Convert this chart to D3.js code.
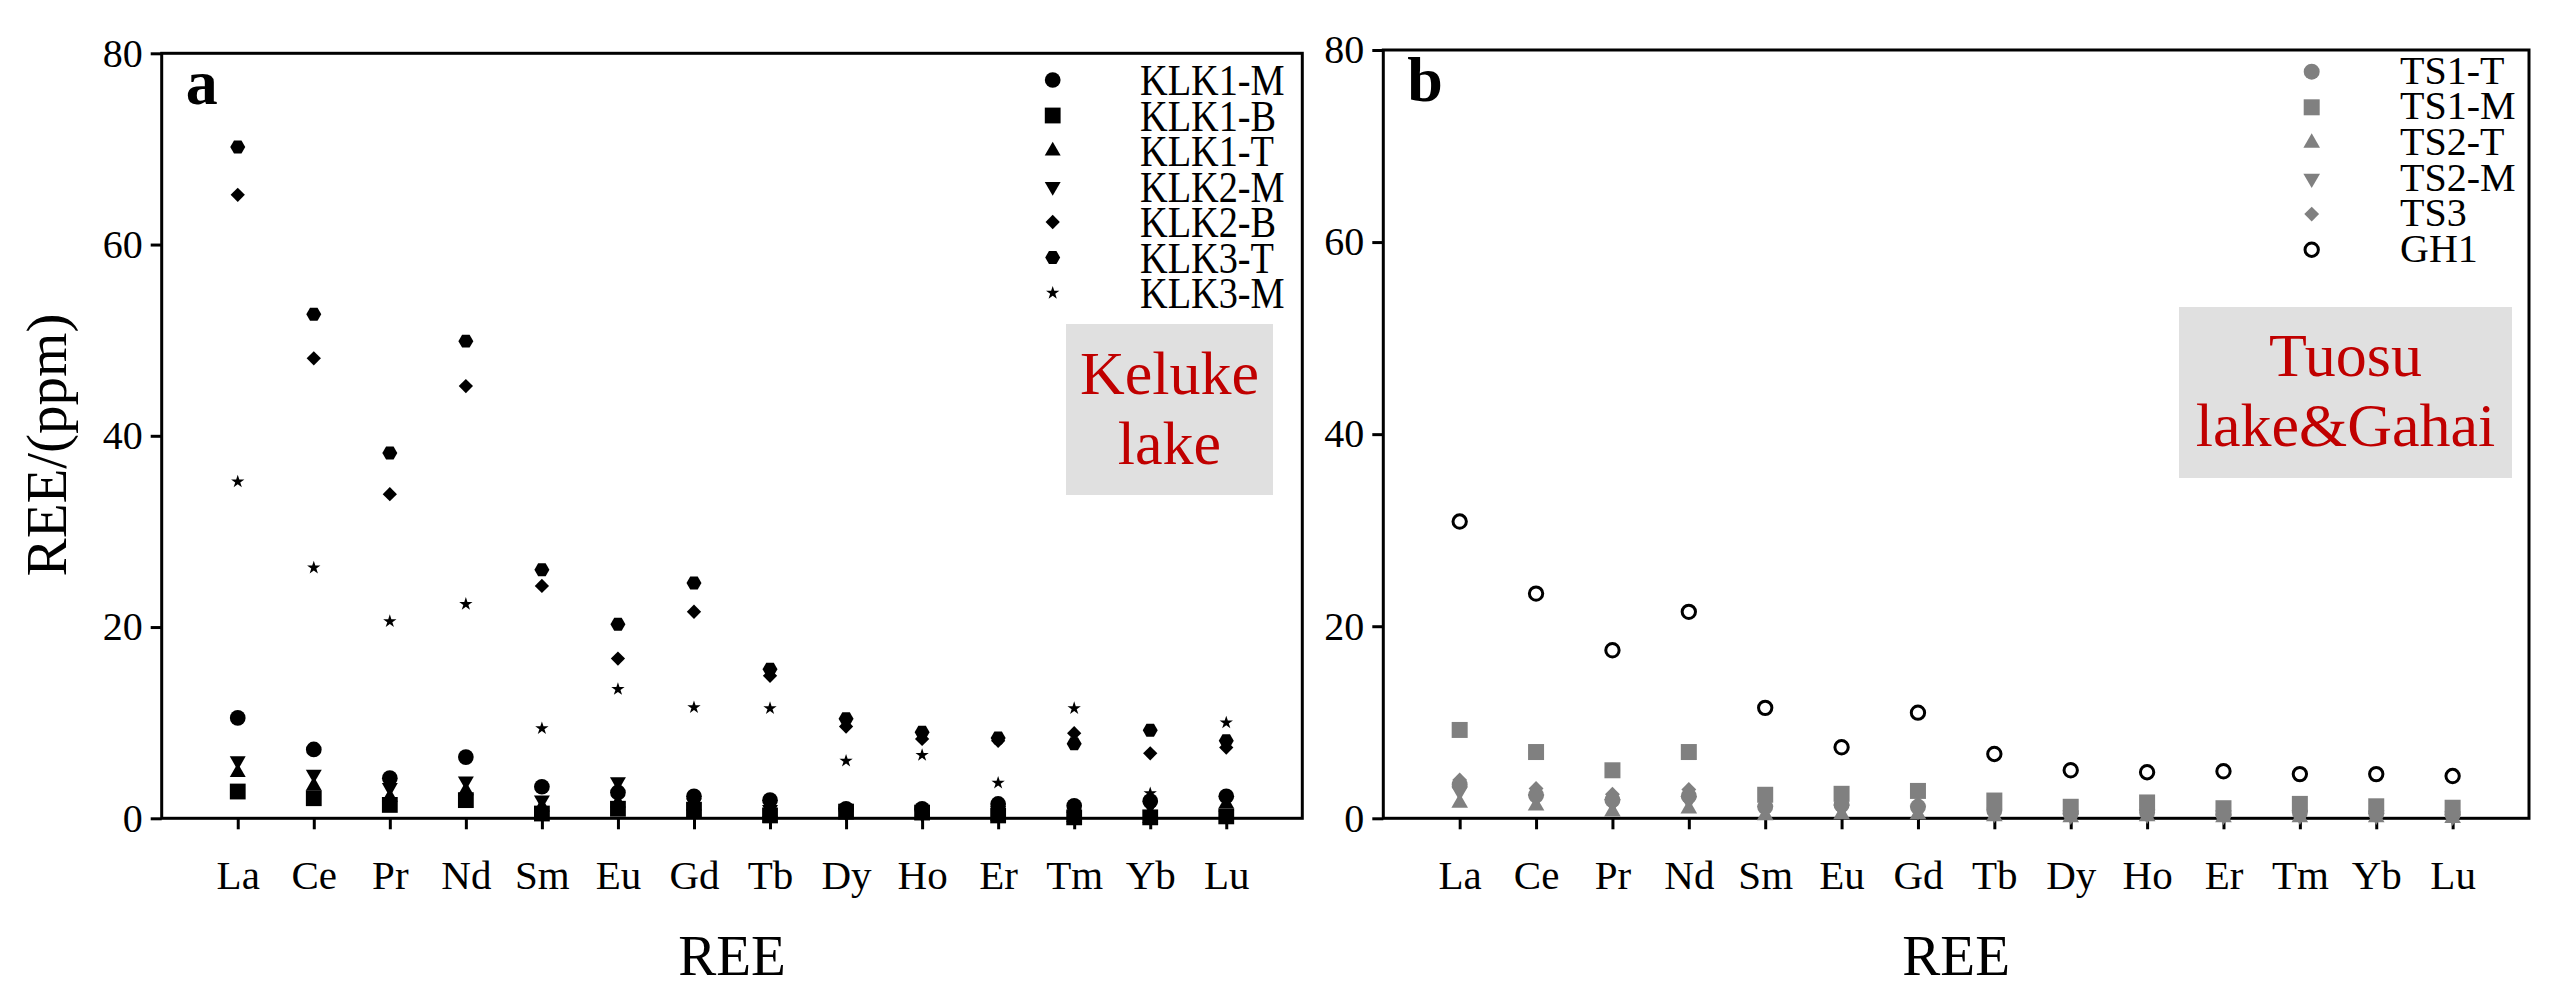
<!DOCTYPE html>
<html>
<head>
<meta charset="utf-8">
<script src="https://cdn.jsdelivr.net/npm/d3@7"></script>
<style>
body { margin: 0; background: #fff; }
svg text { font-family: "Liberation Serif", "Times New Roman", serif; fill: #000; }
</style>
</head>
<body>
<svg id="chart" width="2553" height="997"></svg>
<script>
// REE categories and y ticks
const elements = ['La', 'Ce', 'Pr', 'Nd', 'Sm', 'Eu', 'Gd', 'Tb', 'Dy', 'Ho', 'Er', 'Tm', 'Yb', 'Lu'];
const yTicks = [0, 20, 40, 60, 80];

// panel a: Keluke lake samples (ppm)
const klkNames = ['KLK1-M', 'KLK1-B', 'KLK1-T', 'KLK2-M', 'KLK2-B', 'KLK3-T', 'KLK3-M'];
const klk1M = [10.5, 7.2, 4.2, 6.4, 3.3, 2.7, 2.3, 1.9, 1.0, 1.0, 1.5, 1.3, 1.8, 2.3];
const klk1B = [2.8, 2.1, 1.4, 1.9, 0.5, 1.0, 0.9, 0.3, 0.7, 0.6, 0.3, 0.1, 0.1, 0.2];
const klk1T = [4.8, 3.4, 2.2, 2.9, 1.2, 1.6, 1.3, 0.6, 0.4, 0.3, 0.2, 0.1, 0.0, 1.5];
const klk2M = [6.0, 4.6, 3.2, 3.9, 1.9, 3.8, 1.6, 0.9, 0.6, 0.5, 0.8, 0.2, 1.3, 0.3];
const klk2B = [65.2, 48.1, 33.9, 45.2, 24.3, 16.7, 21.6, 14.9, 9.6, 8.3, 8.1, 8.9, 6.8, 7.4];
const klk3T = [70.2, 52.7, 38.2, 49.9, 26.0, 20.3, 24.6, 15.6, 10.4, 9.0, 8.4, 7.8, 9.2, 8.1];
const klk3M = [35.2, 26.2, 20.6, 22.4, 9.4, 13.5, 11.6, 11.5, 6.0, 6.6, 3.7, 11.5, 2.6, 10.0];

// panel b: Tuosu lake & Gahai samples (ppm)
const tsNames = ['TS1-T', 'TS1-M', 'TS2-T', 'TS2-M', 'TS3', 'GH1'];
const ts1T = [3.5, 2.4, 1.9, 2.3, 1.2, 1.4, 1.2, 0.8, 0.5, 0.6, 0.4, 0.6, 0.5, 0.4];
const ts1M = [9.2, 6.9, 5.0, 6.9, 2.45, 2.55, 2.85, 1.85, 1.2, 1.65, 1.05, 1.5, 1.25, 1.1];
const ts2T = [1.6, 1.3, 0.7, 1.0, 0.3, 0.4, 0.4, 0.2, 0.1, 0.2, 0.1, 0.1, 0.1, 0.0];
const ts2M = [2.8, 2.0, 1.5, 1.8, 0.8, 0.9, 0.8, 0.5, 0.3, 0.4, 0.3, 0.3, 0.3, 0.2];
const ts3 = [4.0, 3.1, 2.5, 3.0, 1.4, 1.6, 1.5, 1.0, 0.7, 0.8, 0.6, 0.8, 0.7, 0.6];
const gh1 = [30.9, 23.4, 17.5, 21.5, 11.5, 7.4, 11.0, 6.7, 5.0, 4.8, 4.9, 4.6, 4.6, 4.4];

// custom symbol shapes
const symbolHexagon = {
    draw(context, size) {
        const r = Math.sqrt(size / (1.5 * Math.sqrt(3)));
        for (let i = 0; i < 6; i++) {
            const a = i * Math.PI / 3;
            if (i === 0) context.moveTo(r * Math.cos(a), r * Math.sin(a));
            else context.lineTo(r * Math.cos(a), r * Math.sin(a));
        }
        context.closePath();
    }
};
const symbolRhomb = {
    draw(context, size) {
        const h = Math.sqrt(size / 2);
        context.moveTo(0, -h);
        context.lineTo(h, 0);
        context.lineTo(0, h);
        context.lineTo(-h, 0);
        context.closePath();
    }
};

const svg = d3.select('#chart');
svg.append('rect').attr('width', 2553).attr('height', 997).attr('fill', '#fff');

function drawPanel(cfg) {
    const g = svg.append('g');

    const x = d3.scaleLinear().domain([0, 15]).range([cfg.left, cfg.right]);
    const y = d3.scaleLinear().domain([0, 80]).range([cfg.bottom, cfg.top]);

    // frame
    g.append('rect')
        .attr('x', cfg.left).attr('y', cfg.top)
        .attr('width', cfg.right - cfg.left).attr('height', cfg.bottom - cfg.top)
        .attr('fill', 'none').attr('stroke', '#000').attr('stroke-width', 3);

    // x axis
    const xAxis = g.append('g')
        .attr('transform', 'translate(0,' + cfg.bottom + ')')
        .call(d3.axisBottom(x)
            .tickValues(d3.range(1, 15))
            .tickFormat(function (d) { return elements[d - 1]; })
            .tickSize(11).tickPadding(31));
    xAxis.select('.domain').remove();
    xAxis.selectAll('line').attr('stroke', '#000').attr('stroke-width', 3);
    xAxis.selectAll('text').style('font-size', '41px').attr('fill', '#000');

    // y axis
    const yAxis = g.append('g')
        .attr('transform', 'translate(' + cfg.left + ',0)')
        .call(d3.axisLeft(y).tickValues(yTicks).tickSize(11).tickPadding(8));
    yAxis.select('.domain').remove();
    yAxis.selectAll('line').attr('stroke', '#000').attr('stroke-width', 3);
    yAxis.selectAll('text').style('font-size', '40px').attr('fill', '#000');

    // axis titles
    g.append('text')
        .attr('x', (cfg.left + cfg.right) / 2).attr('y', 975)
        .attr('text-anchor', 'middle').style('font-size', '57px')
        .text('REE');
    if (cfg.yTitle) {
        g.append('text')
            .attr('transform', 'translate(66,' + 445 + ') rotate(-90)')
            .attr('text-anchor', 'middle').style('font-size', '57px')
            .text(cfg.yTitle);
    }

    // panel letter
    g.append('text')
        .attr('x', cfg.left + 24).attr('y', cfg.top + 51)
        .style('font-size', '64px').style('font-weight', 'bold')
        .text(cfg.letter);

    // site box
    g.append('rect')
        .attr('x', cfg.box.x).attr('y', cfg.box.y)
        .attr('width', cfg.box.w).attr('height', cfg.box.h)
        .attr('fill', '#e0e0e0');
    cfg.box.lines.forEach(function (t, i) {
        g.append('text')
            .attr('x', cfg.box.x + cfg.box.w / 2).attr('y', cfg.box.y + cfg.box.base + i * 70)
            .attr('text-anchor', 'middle').style('font-size', '62px')
            .style('fill', '#c00000')
            .text(t);
    });

    // points
    cfg.series.forEach(function (s) {
        const sym = d3.symbol().type(s.type).size(s.size);
        g.append('g').selectAll('path')
            .data(s.values)
            .join('path')
            .attr('d', sym)
            .attr('transform', function (d, i) {
                return 'translate(' + x(i + 1) + ',' + y(d) + ')' + (s.rotate ? ' rotate(' + s.rotate + ')' : '');
            })
            .attr('fill', s.open ? 'none' : s.color)
            .attr('stroke', s.open ? s.color : 'none')
            .attr('stroke-width', s.open ? 3 : 0);
    });

    // legend
    cfg.series.forEach(function (s, i) {
        const cy = cfg.legend.y + i * cfg.legend.dy;
        g.append('path')
            .attr('d', d3.symbol().type(s.type).size(s.size))
            .attr('transform', 'translate(' + cfg.legend.x + ',' + cy + ')' + (s.rotate ? ' rotate(' + s.rotate + ')' : ''))
            .attr('fill', s.open ? 'none' : s.color)
            .attr('stroke', s.open ? s.color : 'none')
            .attr('stroke-width', s.open ? 3 : 0);
        g.append('text')
            .attr('transform', 'translate(' + cfg.legend.tx + ',' + (cy + cfg.legend.base) + ') scale(' + cfg.legend.sx + ',1)')
            .style('font-size', cfg.legend.font + 'px')
            .text(s.name);
    });
}

drawPanel({
    left: 161.7, right: 1302.3, top: 53.3, bottom: 818.3,
    letter: 'a', yTitle: 'REE/(ppm)',
    box: { x: 1066, y: 324, w: 207, h: 171, base: 70, lines: ['Keluke', 'lake'] },
    legend: { x: 1052.7, y: 80, dy: 35.5, tx: 1140, base: 15, font: 44, sx: 0.87 },
    series: [
        { name: klkNames[0], values: klk1M, type: d3.symbolCircle, size: 194, color: '#000' },
        { name: klkNames[1], values: klk1B, type: d3.symbolSquare, size: 250, color: '#000' },
        { name: klkNames[2], values: klk1T, type: d3.symbolTriangle, size: 110, color: '#000' },
        { name: klkNames[3], values: klk2M, type: d3.symbolTriangle, size: 110, color: '#000', rotate: 180 },
        { name: klkNames[4], values: klk2B, type: symbolRhomb, size: 102, color: '#000' },
        { name: klkNames[5], values: klk3T, type: symbolHexagon, size: 146, color: '#000' },
        { name: klkNames[6], values: klk3M, type: d3.symbolStar, size: 55, color: '#000' }
    ]
});

drawPanel({
    left: 1383.3, right: 2529, top: 50, bottom: 818.3,
    letter: 'b', yTitle: null,
    box: { x: 2179, y: 307, w: 333, h: 171, base: 69, lines: ['Tuosu', 'lake&Gahai'] },
    legend: { x: 2311.7, y: 71.7, dy: 35.6, tx: 2400, base: 12, font: 40, sx: 1 },
    series: [
        { name: tsNames[0], values: ts1T, type: d3.symbolCircle, size: 200, color: '#808080' },
        { name: tsNames[1], values: ts1M, type: d3.symbolSquare, size: 256, color: '#808080' },
        { name: tsNames[2], values: ts2T, type: d3.symbolTriangle, size: 120, color: '#808080' },
        { name: tsNames[3], values: ts2M, type: d3.symbolTriangle, size: 120, color: '#808080', rotate: 180 },
        { name: tsNames[4], values: ts3, type: symbolRhomb, size: 110, color: '#808080' },
        { name: tsNames[5], values: gh1, type: d3.symbolCircle, size: 140, color: '#000', open: true }
    ]
});
</script>
</body>
</html>
